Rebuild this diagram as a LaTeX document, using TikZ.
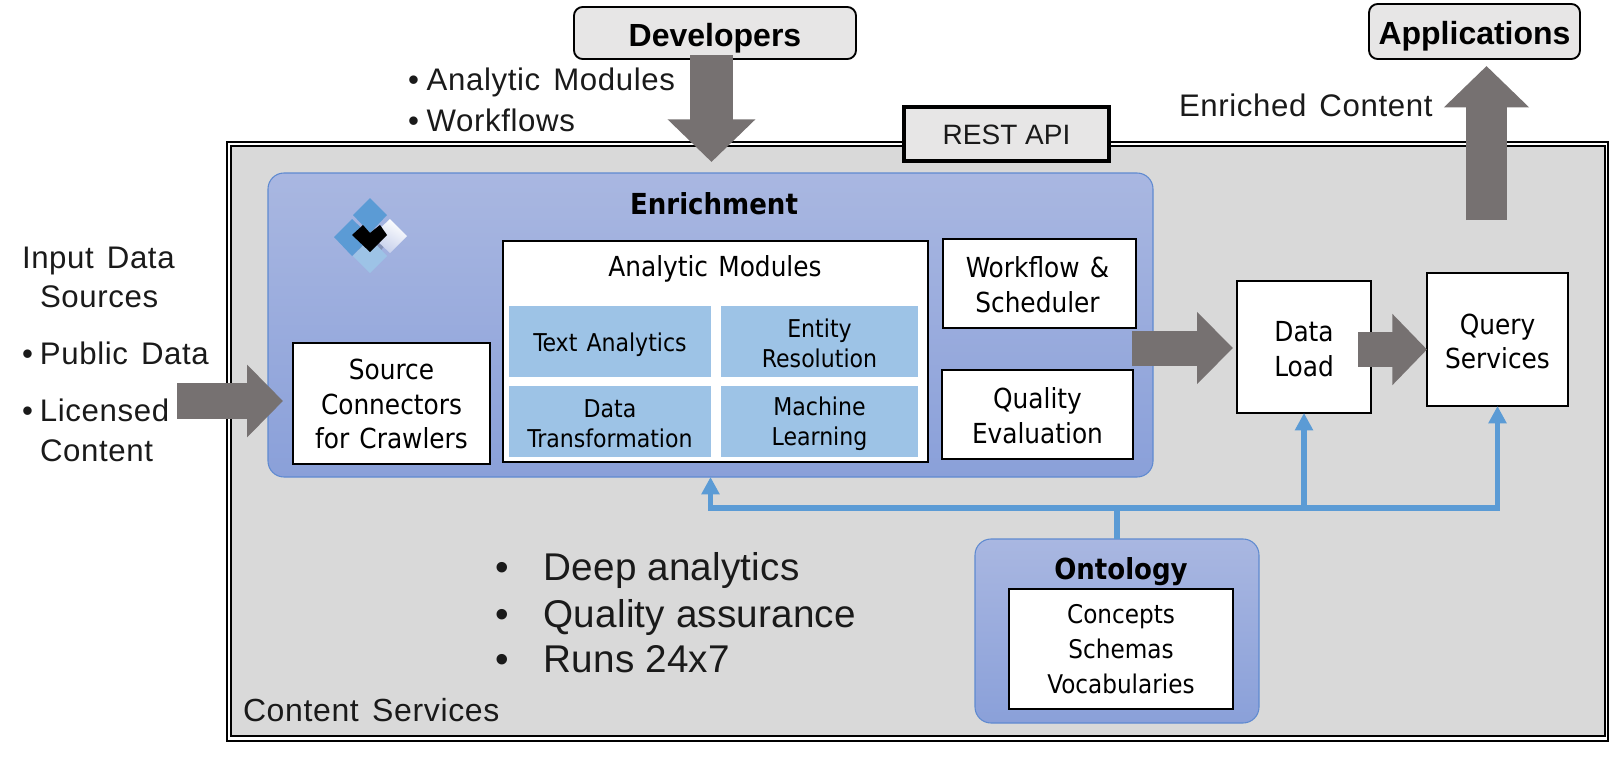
\documentclass[tikz,border=0pt]{standalone}
\usepackage{fontspec}
\setmainfont{Liberation Sans}
\newfontfamily\ar[LetterSpace=2,WordSpace=1.4]{Liberation Sans}
\newfontfamily\arb[LetterSpace=0.5,WordSpace=1]{Liberation Sans}
\newfontfamily\arp{Liberation Sans}
\newfontfamily\tah[WordSpace=1.3]{DejaVu Sans Condensed}
\usetikzlibrary{arrows.meta,calc}
\definecolor{panel}{HTML}{D9D9D9}
\definecolor{tagfill}{HTML}{E7E6E6}
\definecolor{cell}{HTML}{9DC3E6}
\definecolor{flow}{HTML}{767171}
\definecolor{wire}{HTML}{5B9BD5}
\definecolor{gtop}{HTML}{A9B7E1}
\definecolor{gbot}{HTML}{8AA0D9}
\definecolor{gedge}{HTML}{5F8AD0}
\definecolor{ink}{HTML}{1A1A1A}
\tikzset{
  every node/.style={inner sep=0pt,outer sep=0pt},
  whitebox/.style={draw=black,line width=1.7pt,fill=white},
  boxtext/.style={align=center,font=\tah\fontsize{20.7}{26}\selectfont},
  tagbox/.style={draw=black,line width=1.4pt,fill=tagfill,rounded corners=6.5pt},
  tagtext/.style={font=\arp\bfseries\fontsize{24}{28}\selectfont},
  restbox/.style={draw=black,line width=2.8pt,fill=tagfill},
  resttext/.style={font=\arp\fontsize{21}{24}\selectfont,text=ink},
  bluepanel/.style={draw=gedge,line width=0.8pt,top color=gtop,bottom color=gbot,rounded corners=12pt},
  cellbox/.style={fill=cell},
  celltext/.style={align=center,font=\tah\fontsize{18.4}{22.5}\selectfont},
  outer/.style={draw=black,line width=2pt,fill=white},
  inner/.style={draw=black,line width=2pt,fill=panel},
  heading/.style={font=\tah\bfseries\fontsize{21.7}{26}\selectfont},
  label/.style={anchor=base west,font=\ar\fontsize{23.4}{26}\selectfont,text=ink},
  biglabel/.style={anchor=base west,font=\arb\fontsize{29}{32}\selectfont,text=ink},
  flowarrow/.style n args={3}{draw=flow,line width=#1,-{Triangle[length=#2,width=#3,fill=flow]}},
  wireline/.style={draw=wire,line width=4.2pt},
  wirearrow/.style={wireline,-{Triangle[length=13pt,width=13pt,fill=wire]}},
}
\newcommand\rectbox[7]{%
  \pgfmathsetmacro\cxv{(#3+#5)/2}\pgfmathsetmacro\cyv{(#4+#6)/2}%
  \pgfmathsetmacro\wv{(#5-#3)*0.75}\pgfmathsetmacro\hv{(#6-#4)*0.75}%
  \node[#2,minimum width=\wv pt,minimum height=\hv pt] (#1) at (\cxv,\cyv) {#7};}
\begin{document}
\begin{tikzpicture}[x=0.75pt,y=-0.75pt]
\useasboundingbox (0,0) rectangle (1610,761);
% frame
\rectbox{frameout}{outer}{227}{142}{1608}{741}{}
\rectbox{framein}{inner}{231}{146}{1605}{736}{}
\rectbox{rest}{restbox}{904}{107}{1109}{161}{}
\node[resttext] (restlabel) at ($(rest)+(0,1)$) {REST API};
% enrichment
\rectbox{enrich}{bluepanel}{268}{173}{1153}{477}{}
\node[heading,anchor=base] (enrichtitle) at (714,214) {Enrichment};
% logo
\fill[black,opacity=.18] (370,224) -- (388,242) -- (370,263) -- (352,242) -- cycle;
\fill[wire] (352,219) -- (371,237) -- (352,256) -- (334,237) -- cycle;
\shade[left color=white,right color=gtop!70!white,shading angle=-30] (390,219) -- (407,236) -- (390,253) -- (372,236) -- cycle;
\fill[cell] (370,238) -- (387,256) -- (370,273) -- (353,256) -- cycle;
\fill[wire] (370,198) -- (387,215) -- (370,233) -- (353,215) -- cycle;
\fill[black] (352,235) -- (363,225) -- (370,233) -- (380,225) -- (387,235) -- (370,252) -- cycle;
% inner boxes
\rectbox{source}{whitebox}{293}{343}{490}{464}{}
\node[boxtext] (sourcelabel) at ($(source)+(0,0.5)$) {Source\\Connectors\\for Crawlers};
\rectbox{modules}{whitebox}{503}{241}{928}{462}{}
\node[boxtext,anchor=base] (modtitle) at (715,276) {Analytic Modules};
\rectbox{text}{cellbox}{509}{306}{711}{377}{}
\node[celltext] (textlabel) at ($(text)+(0,3)$) {Text Analytics};
\rectbox{entity}{cellbox}{721}{306}{918}{377}{}
\node[celltext] (entitylabel) at ($(entity)+(0,2)$) {Entity\\Resolution};
\rectbox{transform}{cellbox}{509}{386}{711}{457}{}
\node[celltext] (transformlabel) at ($(transform)+(0,2)$) {Data\\Transformation};
\rectbox{learn}{cellbox}{721}{386}{918}{457}{}
\node[celltext] (learnlabel) at ($(learn)+(0,2)$) {Machine\\Learning};
\rectbox{workflow}{whitebox}{943}{239}{1136}{328}{}
\node[boxtext] (workflowlabel) at ($(workflow)+(-2,1.5)$) {Workflow \&\\Scheduler};
\rectbox{quality}{whitebox}{942}{370}{1133}{459}{}
\node[boxtext] (qualitylabel) at ($(quality)+(0,1)$) {Quality\\Evaluation};
\rectbox{load}{whitebox}{1237}{281}{1371}{413}{}
\node[boxtext] (loadlabel) at ($(load)+(0,2)$) {Data\\Load};
\rectbox{query}{whitebox}{1427}{273}{1568}{406}{}
\node[boxtext] (querylabel) at ($(query)+(0,2)$) {Query\\Services};
% ontology
\rectbox{onto}{bluepanel}{975}{539}{1259}{723}{}
\node[heading,anchor=base] (ontotitle) at (1121,579) {Ontology};
\rectbox{ontoin}{whitebox}{1009}{589}{1233}{709}{}
\node[align=center,font=\tah\fontsize{19.3}{26}\selectfont] (ontotext) at (ontoin.center) {Concepts\\Schemas\\Vocabularies};
% tags
\rectbox{dev}{tagbox}{574}{7}{856}{59}{}
\node[tagtext] (devlabel) at ($(dev)+(0,5)$) {Developers};
\rectbox{apps}{tagbox}{1369}{4}{1580}{59}{}
\node[tagtext] (appslabel) at ($(apps)+(0,5)$) {Applications};
% wires
\coordinate (bus) at (onto.north |- 0,508);
\draw[wireline] (onto.north) -- (bus);
\draw[wirearrow] (bus) -| (enrich.south);
\draw[wirearrow] (bus) -| (load.south);
\draw[wirearrow] (bus) -| (query.south);
% flow arrows
\coordinate (inputstart) at (177,401);
\draw[flowarrow={27pt}{27pt}{53pt}] (inputstart) -- ($(source.west)+(-10,-2.5)$);
\draw[flowarrow={26.25pt}{27pt}{52.5pt}] ($(workflow.east)+(-4,64.5)$) -- ($(load.west)+(-4,1)$);
\draw[flowarrow={26.25pt}{26pt}{52pt}] ($(load.east)+(-13,2.5)$) -- ($(query.west)+(0,10)$);
\draw[flowarrow={32pt}{32pt}{64pt}] ($(dev.south)+(-3.5,-4)$) -- ($(enrich.north)+(1,-11)$);
\draw[flowarrow={31pt}{31pt}{62pt}] (1486.5,220) -- ($(apps.south)+(12,7)$);
% outer texts
\node[label] (t1) at (22,268) {Input Data};
\node[label] (t2) at (40,307) {Sources};
\node[label] (t3) at (22,364) {\makebox[13.5pt][l]{•}Public Data};
\node[label] (t4) at (22,421) {\makebox[13.5pt][l]{•}Licensed};
\node[label] (t5) at (40,461) {Content};
\node[label] (t6) at (408,90) {\makebox[14pt][l]{•}Analytic Modules};
\node[label] (t7) at (408,131) {\makebox[14pt][l]{•}Workflows};
\node[label] (t8) at (1179,116) {Enriched Content};
\node[biglabel] (b1) at (495,580) {\makebox[36.5pt][l]{•}Deep analytics};
\node[biglabel] (b2) at (495,627) {\makebox[36.5pt][l]{•}Quality assurance};
\node[biglabel] (b3) at (495,672) {\makebox[36.5pt][l]{•}Runs 24x7};
\node[anchor=base west,font=\ar\fontsize{24}{28}\selectfont,text=ink] (services) at (243,721) {Content Services};
\end{tikzpicture}
\end{document}
